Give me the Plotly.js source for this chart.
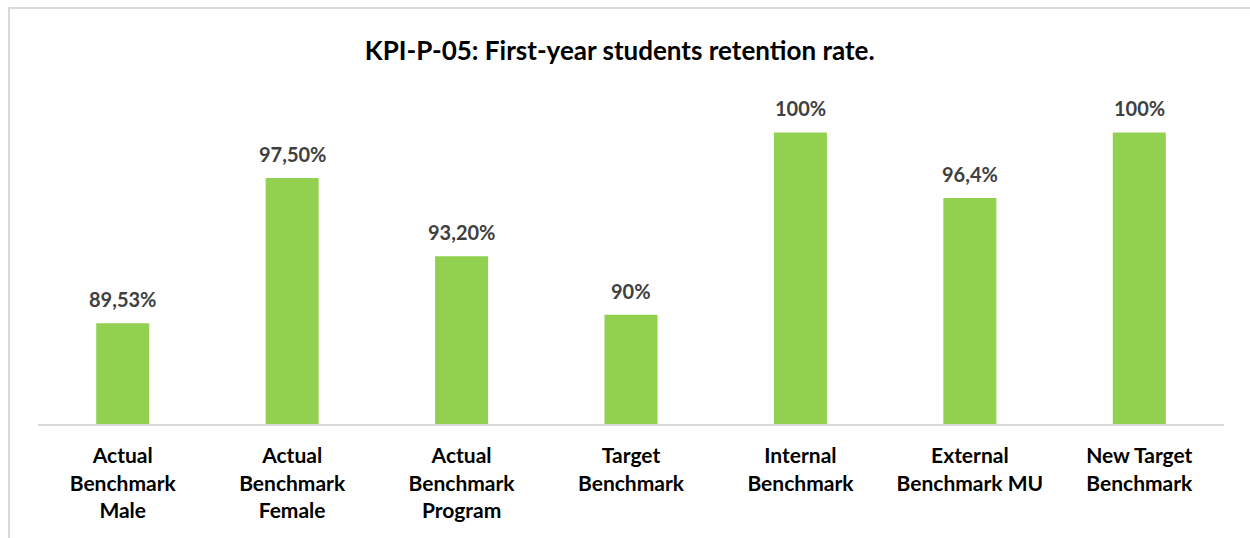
<!DOCTYPE html>
<html>
<head>
<meta charset="utf-8">
<script src="https://cdn.plot.ly/plotly-3.0.1.min.js"></script>
<style>
  html, body { margin: 0; padding: 0; background: #fff; }
  #wrap { position: relative; width: 1250px; height: 538px; }
  #chart { width: 1250px; height: 538px; }
  #frame { position: absolute; left: 8px; top: 7px; width: 1300px; height: 600px;
           border-left: 2px solid #d9d9d9; border-top: 2px solid #d9d9d9; pointer-events: none; }
</style>
</head>
<body>
<div id="wrap">
  <div id="chart"></div>
  <div id="frame"></div>
</div>
<script>
const categories = [
  "Actual<br>Benchmark<br>Male",
  "Actual<br>Benchmark<br>Female",
  "Actual<br>Benchmark<br>Program",
  "Target<br>Benchmark",
  "Internal<br>Benchmark",
  "External<br>Benchmark MU",
  "New Target<br>Benchmark"
];
const values = [89.53, 97.5, 93.2, 90, 100, 96.4, 100];
const valueLabels = ["89,53%", "97,50%", "93,20%", "90%", "100%", "96,4%", "100%"];
const chartTitle = "KPI-P-05: First-year students retention rate.";

const FONT = "Lato, 'Open Sans', sans-serif";

const trace = {
  type: "bar",
  x: categories,
  y: values,
  marker: { color: "#92D050" },
  hoverinfo: "skip"
};

const annotations = categories.map((c, i) => ({
  x: c, y: values[i], xref: "x", yref: "y",
  text: valueLabels[i], showarrow: false,
  yanchor: "bottom", yshift: 10,
  font: { family: FONT, size: 20, color: "#404040", weight: "bold" }
}));

const layout = {
  width: 1250, height: 538,
  margin: { l: 38, r: 26, t: 96, b: 114, pad: 0 },
  paper_bgcolor: "#ffffff", plot_bgcolor: "#ffffff",
  showlegend: false,
  bargap: 0.687,
  title: {
    text: chartTitle,
    font: { family: FONT, size: 26, color: "#000000", weight: "bold" },
    x: 0.4905, xanchor: "center", xref: "paper",
    y: 1 - 51 / 538, yanchor: "middle", yref: "container"
  },
  xaxis: {
    showline: true, linecolor: "#d9d9d9", linewidth: 2,
    ticks: "", showgrid: false, zeroline: false,
    tickfont: { family: FONT, size: 21, color: "#000000", weight: "bold" },
    ticklabelstandoff: 12
  },
  yaxis: {
    visible: false, range: [84, 102], showgrid: false, zeroline: false
  },
  annotations: annotations
};

Plotly.newPlot("chart", [trace], layout, { displayModeBar: false, staticPlot: true });
</script>
</body>
</html>
